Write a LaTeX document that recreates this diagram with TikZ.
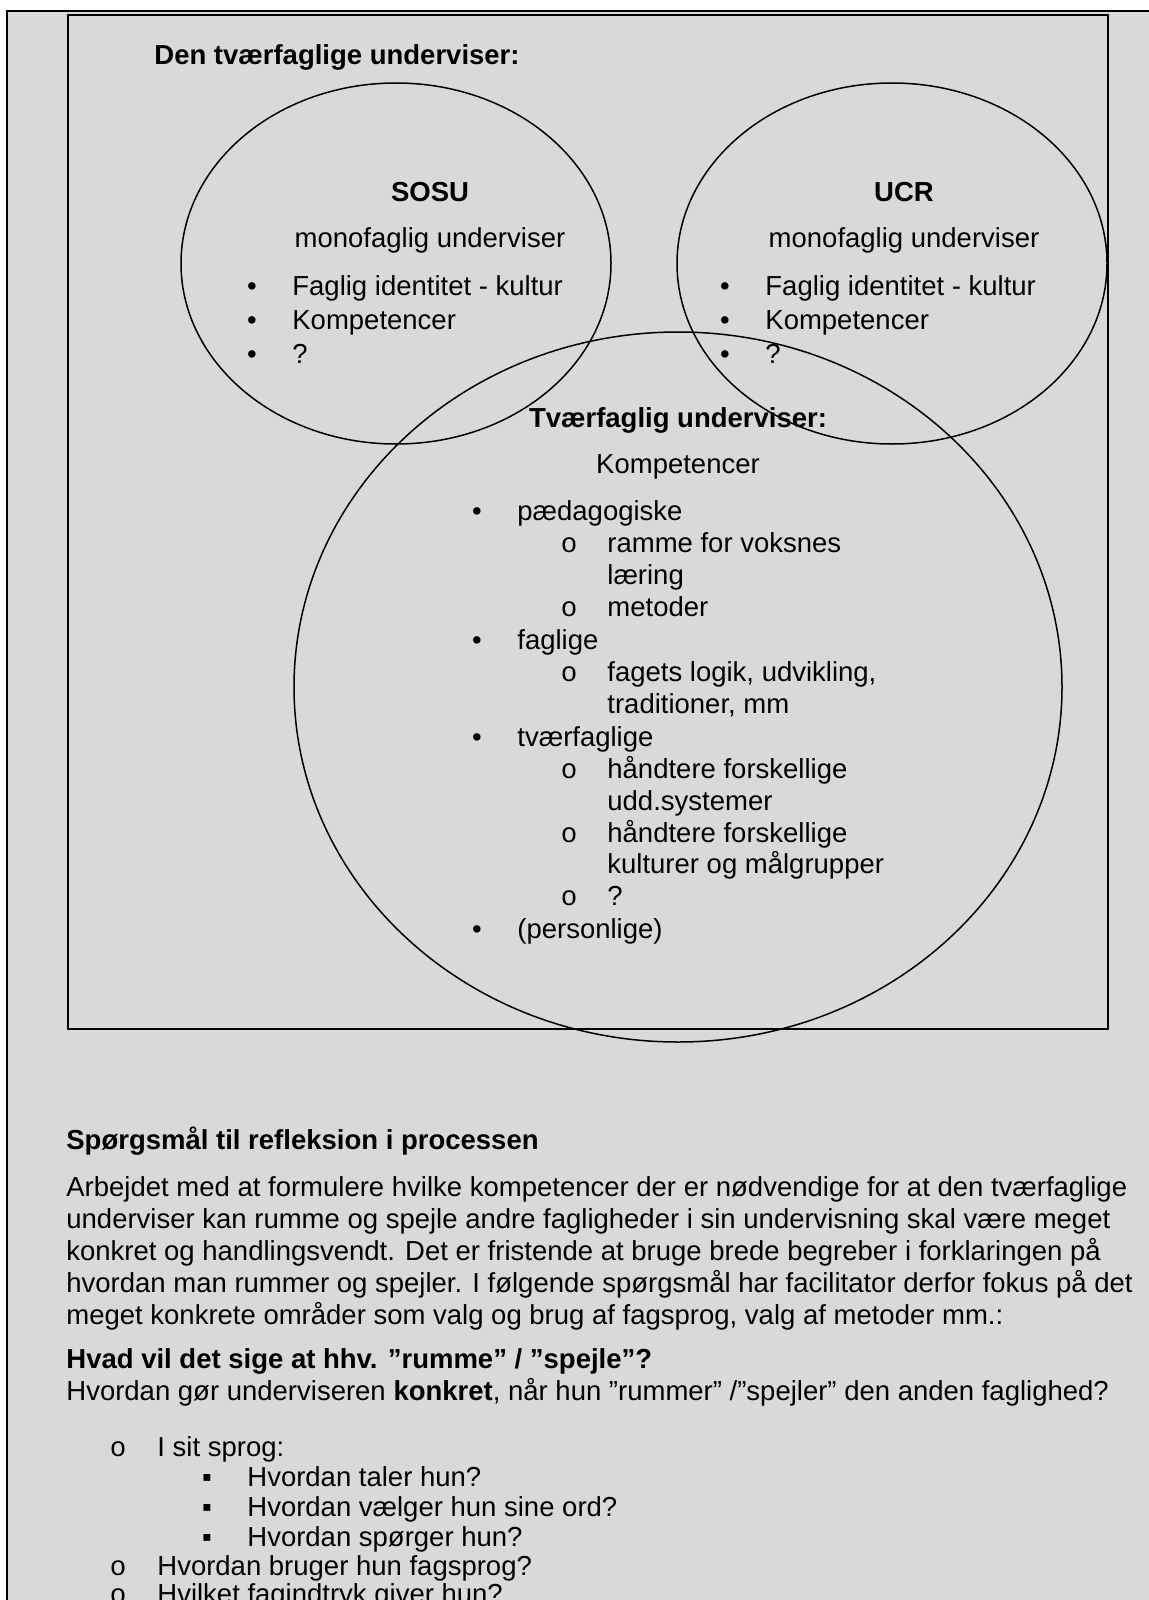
\documentclass[tikz,border=0pt]{standalone}
\usepackage{fontspec}
\setmainfont{Liberation Sans}
\newfontfamily\ringfont{Liberation Mono}
\usepackage{tikz}
\definecolor{pagegray}{RGB}{217,217,217}
\newcommand\docsize{\fontsize{13.75pt}{16pt}\selectfont}

\begin{document}
\begin{tikzpicture}[
  x=0.5pt, y=-0.5pt,
  txt/.style={anchor=base west, inner sep=0pt, font=\docsize},
  mid/.style={anchor=base, inner sep=0pt, font=\docsize},
  bold/.style={anchor=base west, inner sep=0pt, font=\docsize\bfseries},
  midbold/.style={anchor=base, inner sep=0pt, font=\docsize\bfseries},
  dot/.style={anchor=base, inner sep=0pt, font=\docsize},
  ring/.style={anchor=base, inner sep=0pt, font=\docsize\ringfont},
  sq/.style={anchor=base, inner sep=0pt, font=\docsize},
  oval/.style={line width=0.75pt}
]
\useasboundingbox (0,0) rectangle (1148,1600);
\fill[pagegray] (7,11) rectangle (1160,1610);
\draw[line width=1pt] (1160,11) -- (7,11) -- (7,1610);
\draw[line width=1.3pt] (68,15) rectangle (1108,1029);

\draw[oval] (396,263.5) ellipse [x radius=215, y radius=180.5];
\draw[oval] (892,263.5) ellipse [x radius=215, y radius=180.5];
\draw[oval] (678,687) ellipse [x radius=384, y radius=355];

\node[bold] (title) at (154,65) {Den tværfaglige underviser:};

\node[midbold] (sosu) at (430,201) {SOSU};
\node[mid] (sosumono) at (430,247) {monofaglig underviser};
\node[dot] (sosuB1) at (252,295) {•};
\node[txt] (sosuI1) at (292,295) {Faglig identitet - kultur};
\node[dot] (sosuB2) at (252,329) {•};
\node[txt] (sosuI2) at (292,329) {Kompetencer};
\node[dot] (sosuB3) at (252,363) {•};
\node[txt] (sosuI3) at (292,363) {?};

\node[midbold] (ucr) at (904,201) {UCR};
\node[mid] (ucrmono) at (904,247) {monofaglig underviser};
\node[dot] (ucrB1) at (725,295) {•};
\node[txt] (ucrI1) at (765,295) {Faglig identitet - kultur};
\node[dot] (ucrB2) at (725,329) {•};
\node[txt] (ucrI2) at (765,329) {Kompetencer};
\node[dot] (ucrB3) at (725,363) {•};
\node[txt] (ucrI3) at (765,363) {?};

\node[midbold] (tvaer) at (678,427) {Tværfaglig underviser:};
\node[mid] (komp) at (678,473) {Kompetencer};
\node[dot] (pB) at (477,520) {•};
\node[txt] (pI) at (517,520) {pædagogiske};
\node[ring] (pS1) at (569,552) {o};
\node[txt] (pT1) at (607,552) {ramme for voksnes};
\node[txt] (pT1b) at (607,584) {læring};
\node[ring] (pS2) at (569,616) {o};
\node[txt] (pT2) at (607,616) {metoder};
\node[dot] (fB) at (477,649) {•};
\node[txt] (fI) at (517,649) {faglige};
\node[ring] (fS1) at (569,681) {o};
\node[txt] (fT1) at (607,681) {fagets logik, udvikling,};
\node[txt] (fT1b) at (607,713) {traditioner, mm};
\node[dot] (tB) at (477,746) {•};
\node[txt] (tI) at (517,746) {tværfaglige};
\node[ring] (tS1) at (569,778) {o};
\node[txt] (tT1) at (607,778) {håndtere forskellige};
\node[txt] (tT1b) at (607,810) {udd.systemer};
\node[ring] (tS2) at (569,842) {o};
\node[txt] (tT2) at (607,842) {håndtere forskellige};
\node[txt] (tT2b) at (607,873) {kulturer og målgrupper};
\node[ring] (tS3) at (569,905) {o};
\node[txt] (tT3) at (607,905) {?};
\node[dot] (perB) at (477,938) {•};
\node[txt] (perI) at (517,938) {(personlige)};

\node[bold] (spm) at (66,1149) {Spørgsmål til refleksion i processen};
\node[txt] (par1) at (66,1196) {Arbejdet med at formulere hvilke kompetencer der er nødvendige for at den tværfaglige};
\node[txt] (par2) at (66,1228) {underviser kan rumme og spejle andre fagligheder i sin undervisning skal være meget};
\node[txt] (par3) at (66,1260) {konkret og handlingsvendt. Det er fristende at bruge brede begreber i forklaringen på};
\node[txt] (par4) at (66,1292) {hvordan man rummer og spejler. I følgende spørgsmål har facilitator derfor fokus på det};
\node[txt] (par5) at (66,1324) {meget konkrete områder som valg og brug af fagsprog, valg af metoder mm.:};
\node[bold] (hvad) at (66,1368) {Hvad vil det sige at hhv. ”rumme” / ”spejle”?};
\node[txt] (hvordan) at (66,1400) {Hvordan gør underviseren \textbf{konkret}, når hun ”rummer” /”spejler” den anden faglighed?};

\node[ring] (qS1) at (118,1456) {o};
\node[txt] (qT1) at (157,1456) {I sit sprog:};
\node[sq] (qQ1) at (207,1486) {▪};
\node[txt] (qU1) at (247,1486) {Hvordan taler hun?};
\node[sq] (qQ2) at (207,1516) {▪};
\node[txt] (qU2) at (247,1516) {Hvordan vælger hun sine ord?};
\node[sq] (qQ3) at (207,1546) {▪};
\node[txt] (qU3) at (247,1546) {Hvordan spørger hun?};
\node[ring] (qS2) at (118,1575) {o};
\node[txt] (qT2) at (157,1575) {Hvordan bruger hun fagsprog?};
\node[ring] (qS3) at (118,1603) {o};
\node[txt] (qT3) at (157,1603) {Hvilket fagindtryk giver hun?};
\end{tikzpicture}
\end{document}
